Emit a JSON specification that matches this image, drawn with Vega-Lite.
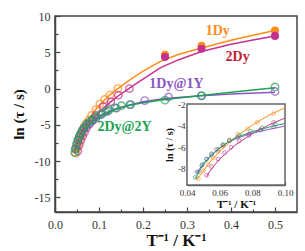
{
  "$schema": "https://vega.github.io/schema/vega-lite/v6.json",
  "width": 242,
  "height": 196,
  "autosize": {"type": "none"},
  "padding": {"left": 55, "top": 16, "right": 8, "bottom": 39},
  "background": "white",
  "config": {
    "view": {"stroke": "#444", "strokeWidth": 1.5},
    "font": "Liberation Serif",
    "axis": {"grid": false, "domainColor": "#444", "domainWidth": 1.5, "tickColor": "#444", "tickWidth": 1.2, "labelColor": "#333", "labelFont": "Liberation Serif", "titleFont": "Liberation Serif", "titleColor": "#111"}
  },
  "datasets": {
    "labels": [
      {"label": "1Dy", "x": 0.37, "y": 7.9},
      {"label": "2Dy", "x": 0.415, "y": 4.3},
      {"label": "1Dy@1Y", "x": 0.276, "y": 0.7},
      {"label": "2Dy@2Y", "x": 0.158, "y": -5.25}
    ],
    "frame": [{"x": 0.04, "x2": 0.1, "y": -9.5, "y2": -2}],
    "pts": [
      {"series": "1Dy", "kind": "open", "x": 0.047, "y": -8.9},
      {"series": "1Dy", "kind": "open", "x": 0.050, "y": -8.2},
      {"series": "1Dy", "kind": "open", "x": 0.053, "y": -7.6},
      {"series": "1Dy", "kind": "open", "x": 0.056, "y": -7.0},
      {"series": "1Dy", "kind": "open", "x": 0.059, "y": -6.4},
      {"series": "1Dy", "kind": "open", "x": 0.062, "y": -5.9},
      {"series": "1Dy", "kind": "open", "x": 0.066, "y": -5.3},
      {"series": "1Dy", "kind": "open", "x": 0.071, "y": -4.8},
      {"series": "1Dy", "kind": "open", "x": 0.077, "y": -4.3},
      {"series": "1Dy", "kind": "open", "x": 0.083, "y": -3.7},
      {"series": "1Dy", "kind": "open", "x": 0.093, "y": -2.9},
      {"series": "1Dy", "kind": "open", "x": 0.102, "y": -2.1},
      {"series": "1Dy", "kind": "open", "x": 0.113, "y": -1.5},
      {"series": "1Dy", "kind": "open", "x": 0.125, "y": -0.9},
      {"series": "1Dy", "kind": "open", "x": 0.143, "y": 0.0},
      {"series": "1Dy", "kind": "filled", "x": 0.25, "y": 4.66},
      {"series": "1Dy", "kind": "filled", "x": 0.333, "y": 5.89},
      {"series": "1Dy", "kind": "filled", "x": 0.5, "y": 7.99},
      {"series": "2Dy", "kind": "open", "x": 0.052, "y": -8.6},
      {"series": "2Dy", "kind": "open", "x": 0.055, "y": -7.8},
      {"series": "2Dy", "kind": "open", "x": 0.059, "y": -7.1},
      {"series": "2Dy", "kind": "open", "x": 0.063, "y": -6.5},
      {"series": "2Dy", "kind": "open", "x": 0.067, "y": -6.0},
      {"series": "2Dy", "kind": "open", "x": 0.072, "y": -5.4},
      {"series": "2Dy", "kind": "open", "x": 0.078, "y": -4.9},
      {"series": "2Dy", "kind": "open", "x": 0.085, "y": -4.4},
      {"series": "2Dy", "kind": "open", "x": 0.093, "y": -3.7},
      {"series": "2Dy", "kind": "open", "x": 0.110, "y": -2.5},
      {"series": "2Dy", "kind": "open", "x": 0.127, "y": -1.8},
      {"series": "2Dy", "kind": "open", "x": 0.144, "y": -0.9},
      {"series": "2Dy", "kind": "open", "x": 0.169, "y": 0.0},
      {"series": "2Dy", "kind": "filled", "x": 0.25, "y": 4.34},
      {"series": "2Dy", "kind": "filled", "x": 0.333, "y": 5.48},
      {"series": "2Dy", "kind": "filled", "x": 0.5, "y": 7.26},
      {"series": "1Dy@1Y", "kind": "open", "x": 0.046, "y": -8.3},
      {"series": "1Dy@1Y", "kind": "open", "x": 0.049, "y": -7.7},
      {"series": "1Dy@1Y", "kind": "open", "x": 0.052, "y": -7.1},
      {"series": "1Dy@1Y", "kind": "open", "x": 0.055, "y": -6.6},
      {"series": "1Dy@1Y", "kind": "open", "x": 0.058, "y": -6.2},
      {"series": "1Dy@1Y", "kind": "open", "x": 0.062, "y": -5.8},
      {"series": "1Dy@1Y", "kind": "open", "x": 0.066, "y": -5.4},
      {"series": "1Dy@1Y", "kind": "open", "x": 0.071, "y": -5.1},
      {"series": "1Dy@1Y", "kind": "open", "x": 0.078, "y": -4.8},
      {"series": "1Dy@1Y", "kind": "open", "x": 0.085, "y": -4.4},
      {"series": "1Dy@1Y", "kind": "open", "x": 0.093, "y": -4.1},
      {"series": "1Dy@1Y", "kind": "open", "x": 0.105, "y": -3.6},
      {"series": "1Dy@1Y", "kind": "open", "x": 0.120, "y": -3.1},
      {"series": "1Dy@1Y", "kind": "open", "x": 0.140, "y": -2.7},
      {"series": "1Dy@1Y", "kind": "open", "x": 0.172, "y": -2.2},
      {"series": "1Dy@1Y", "kind": "open", "x": 0.204, "y": -1.65},
      {"series": "1Dy@1Y", "kind": "open", "x": 0.258, "y": -1.15},
      {"series": "1Dy@1Y", "kind": "open", "x": 0.333, "y": -1.0},
      {"series": "1Dy@1Y", "kind": "open", "x": 0.5, "y": -0.4},
      {"series": "2Dy@2Y", "kind": "open", "x": 0.045, "y": -8.8},
      {"series": "2Dy@2Y", "kind": "open", "x": 0.047, "y": -8.3},
      {"series": "2Dy@2Y", "kind": "open", "x": 0.0495, "y": -7.6},
      {"series": "2Dy@2Y", "kind": "open", "x": 0.052, "y": -7.1},
      {"series": "2Dy@2Y", "kind": "open", "x": 0.055, "y": -6.7},
      {"series": "2Dy@2Y", "kind": "open", "x": 0.059, "y": -6.2},
      {"series": "2Dy@2Y", "kind": "open", "x": 0.062, "y": -5.75},
      {"series": "2Dy@2Y", "kind": "open", "x": 0.066, "y": -5.4},
      {"series": "2Dy@2Y", "kind": "open", "x": 0.072, "y": -4.9},
      {"series": "2Dy@2Y", "kind": "open", "x": 0.079, "y": -4.5},
      {"series": "2Dy@2Y", "kind": "open", "x": 0.086, "y": -4.2},
      {"series": "2Dy@2Y", "kind": "open", "x": 0.094, "y": -3.9},
      {"series": "2Dy@2Y", "kind": "open", "x": 0.105, "y": -3.5},
      {"series": "2Dy@2Y", "kind": "open", "x": 0.115, "y": -3.2},
      {"series": "2Dy@2Y", "kind": "open", "x": 0.123, "y": -2.95},
      {"series": "2Dy@2Y", "kind": "open", "x": 0.136, "y": -2.65},
      {"series": "2Dy@2Y", "kind": "open", "x": 0.151, "y": -2.35},
      {"series": "2Dy@2Y", "kind": "open", "x": 0.170, "y": -2.2},
      {"series": "2Dy@2Y", "kind": "open", "x": 0.25, "y": -1.6},
      {"series": "2Dy@2Y", "kind": "open", "x": 0.333, "y": -0.96},
      {"series": "2Dy@2Y", "kind": "open", "x": 0.5, "y": 0.23}
    ],
    "fit": [
      {"series": "1Dy", "x": 0.046, "y": -9.0},
      {"series": "1Dy", "x": 0.05, "y": -8.2},
      {"series": "1Dy", "x": 0.055, "y": -7.2},
      {"series": "1Dy", "x": 0.06, "y": -6.4},
      {"series": "1Dy", "x": 0.065, "y": -5.7},
      {"series": "1Dy", "x": 0.07, "y": -5.05},
      {"series": "1Dy", "x": 0.08, "y": -3.95},
      {"series": "1Dy", "x": 0.09, "y": -3.05},
      {"series": "1Dy", "x": 0.10, "y": -2.35},
      {"series": "1Dy", "x": 0.11, "y": -1.7},
      {"series": "1Dy", "x": 0.12, "y": -1.1},
      {"series": "1Dy", "x": 0.135, "y": -0.35},
      {"series": "1Dy", "x": 0.15, "y": 0.3},
      {"series": "1Dy", "x": 0.17, "y": 1.2},
      {"series": "1Dy", "x": 0.2, "y": 2.4},
      {"series": "1Dy", "x": 0.24, "y": 3.75},
      {"series": "1Dy", "x": 0.28, "y": 4.7},
      {"series": "1Dy", "x": 0.333, "y": 5.6},
      {"series": "1Dy", "x": 0.4, "y": 6.65},
      {"series": "1Dy", "x": 0.45, "y": 7.35},
      {"series": "1Dy", "x": 0.5, "y": 8.0},
      {"series": "2Dy", "x": 0.052, "y": -8.7},
      {"series": "2Dy", "x": 0.055, "y": -8.0},
      {"series": "2Dy", "x": 0.06, "y": -7.1},
      {"series": "2Dy", "x": 0.065, "y": -6.4},
      {"series": "2Dy", "x": 0.07, "y": -5.75},
      {"series": "2Dy", "x": 0.08, "y": -4.75},
      {"series": "2Dy", "x": 0.09, "y": -3.95},
      {"series": "2Dy", "x": 0.10, "y": -3.3},
      {"series": "2Dy", "x": 0.11, "y": -2.7},
      {"series": "2Dy", "x": 0.125, "y": -1.9},
      {"series": "2Dy", "x": 0.145, "y": -0.95},
      {"series": "2Dy", "x": 0.17, "y": 0.1},
      {"series": "2Dy", "x": 0.2, "y": 1.3},
      {"series": "2Dy", "x": 0.24, "y": 2.9},
      {"series": "2Dy", "x": 0.28, "y": 3.95},
      {"series": "2Dy", "x": 0.333, "y": 5.1},
      {"series": "2Dy", "x": 0.4, "y": 6.1},
      {"series": "2Dy", "x": 0.45, "y": 6.7},
      {"series": "2Dy", "x": 0.5, "y": 7.26},
      {"series": "1Dy@1Y", "x": 0.046, "y": -8.4},
      {"series": "1Dy@1Y", "x": 0.05, "y": -7.5},
      {"series": "1Dy@1Y", "x": 0.055, "y": -6.7},
      {"series": "1Dy@1Y", "x": 0.06, "y": -6.05},
      {"series": "1Dy@1Y", "x": 0.065, "y": -5.55},
      {"series": "1Dy@1Y", "x": 0.07, "y": -5.2},
      {"series": "1Dy@1Y", "x": 0.08, "y": -4.7},
      {"series": "1Dy@1Y", "x": 0.09, "y": -4.35},
      {"series": "1Dy@1Y", "x": 0.1, "y": -4.05},
      {"series": "1Dy@1Y", "x": 0.12, "y": -3.35},
      {"series": "1Dy@1Y", "x": 0.14, "y": -2.8},
      {"series": "1Dy@1Y", "x": 0.17, "y": -2.25},
      {"series": "1Dy@1Y", "x": 0.2, "y": -1.8},
      {"series": "1Dy@1Y", "x": 0.25, "y": -1.35},
      {"series": "1Dy@1Y", "x": 0.333, "y": -1.0},
      {"series": "1Dy@1Y", "x": 0.4, "y": -0.75},
      {"series": "1Dy@1Y", "x": 0.5, "y": -0.5},
      {"series": "2Dy@2Y", "x": 0.045, "y": -8.9},
      {"series": "2Dy@2Y", "x": 0.05, "y": -7.6},
      {"series": "2Dy@2Y", "x": 0.055, "y": -6.75},
      {"series": "2Dy@2Y", "x": 0.06, "y": -6.1},
      {"series": "2Dy@2Y", "x": 0.065, "y": -5.55},
      {"series": "2Dy@2Y", "x": 0.07, "y": -5.1},
      {"series": "2Dy@2Y", "x": 0.08, "y": -4.55},
      {"series": "2Dy@2Y", "x": 0.09, "y": -4.15},
      {"series": "2Dy@2Y", "x": 0.1, "y": -3.8},
      {"series": "2Dy@2Y", "x": 0.12, "y": -3.2},
      {"series": "2Dy@2Y", "x": 0.14, "y": -2.75},
      {"series": "2Dy@2Y", "x": 0.17, "y": -2.3},
      {"series": "2Dy@2Y", "x": 0.2, "y": -1.95},
      {"series": "2Dy@2Y", "x": 0.25, "y": -1.5},
      {"series": "2Dy@2Y", "x": 0.333, "y": -0.95},
      {"series": "2Dy@2Y", "x": 0.4, "y": -0.5},
      {"series": "2Dy@2Y", "x": 0.5, "y": 0.1}
    ]
  },
  "layer": [
    {
      "encoding": {
        "x": {"field": "x", "type": "quantitative", "scale": {"domain": [0, 0.55], "nice": false},
          "axis": {"values": [0, 0.05, 0.1, 0.15, 0.2, 0.25, 0.3, 0.35, 0.4, 0.45, 0.5],
            "labelExpr": "abs(datum.value*10-round(datum.value*10))<0.001 ? format(datum.value,'.1f') : ''",
            "tickSize": {"condition": {"test": "abs(datum.value*10-round(datum.value*10))<0.001", "value": -5}, "value": -3},
            "labelPadding": 12, "labelFontSize": 12, "labelFlush": false, "labelFont": "Liberation Serif",
            "title": "T⁻¹ / K⁻¹", "titleFont": "Liberation Serif", "titleFontSize": 17, "titleFontWeight": "bold", "titlePadding": 2}},
        "y": {"field": "y", "type": "quantitative", "scale": {"domain": [-17, 10], "nice": false, "zero": false},
          "axis": {"values": [-15, -12.5, -10, -7.5, -5, -2.5, 0, 2.5, 5, 7.5, 10],
            "labelExpr": "datum.value % 5 == 0 ? toString(datum.value) : ''",
            "tickSize": {"condition": {"test": "datum.value % 5 == 0", "value": -5}, "value": -3},
            "labelPadding": 10, "labelFontSize": 12, "labelFont": "Liberation Serif",
            "title": "ln (τ / s)", "titleFont": "Liberation Serif", "titleFontSize": 15, "titleFontWeight": "bold", "titlePadding": 8}}
      },
      "layer": [
        {"data": {"name": "fit"}, "mark": {"type": "line", "strokeWidth": 1.5},
         "encoding": {"color": {"field": "series", "type": "nominal", "legend": null,
           "scale": {"domain": ["1Dy", "2Dy", "1Dy@1Y", "2Dy@2Y"], "range": ["#FF8C1A", "#C4318F", "#8A55C4", "#20A255"]}},
           "detail": {"field": "series"}}},
        {"data": {"name": "pts"}, "transform": [{"filter": "datum.kind == 'open'"}],
         "mark": {"type": "point", "filled": false, "size": 55, "strokeWidth": 1.4},
         "encoding": {"color": {"field": "series", "type": "nominal", "legend": null}}},
        {"data": {"name": "pts"}, "transform": [{"filter": "datum.kind == 'filled'"}],
         "mark": {"type": "circle", "size": 65, "opacity": 1},
         "encoding": {"color": {"field": "series", "type": "nominal", "legend": null}}},
        {"data": {"name": "labels"}, "transform": [{"filter": "datum.label == '1Dy'"}],
         "mark": {"type": "text", "font": "Liberation Serif", "fontSize": 14, "fontWeight": "bold", "color": "#FF8C1A"},
         "encoding": {"text": {"field": "label"}}},
        {"data": {"name": "labels"}, "transform": [{"filter": "datum.label == '2Dy'"}],
         "mark": {"type": "text", "font": "Liberation Serif", "fontSize": 14, "fontWeight": "bold", "color": "#C41E3A"},
         "encoding": {"text": {"field": "label"}}},
        {"data": {"name": "labels"}, "transform": [{"filter": "datum.label == '1Dy@1Y'"}],
         "mark": {"type": "text", "font": "Liberation Serif", "fontSize": 14, "fontWeight": "bold", "color": "#8A55C4"},
         "encoding": {"text": {"field": "label"}}},
        {"data": {"name": "labels"}, "transform": [{"filter": "datum.label == '2Dy@2Y'"}],
         "mark": {"type": "text", "font": "Liberation Serif", "fontSize": 14, "fontWeight": "bold", "color": "#20A255"},
         "encoding": {"text": {"field": "label"}}}
      ]
    },
    {
      "encoding": {
        "x": {"field": "x", "type": "quantitative", "scale": {"domain": [0.04, 0.1], "nice": false, "zero": false, "range": [132, 230]},
          "axis": {"orient": "bottom", "offset": -27, "values": [0.04, 0.05, 0.06, 0.07, 0.08, 0.09, 0.1],
            "labelExpr": "abs(datum.value*50-round(datum.value*50))<0.001 ? format(datum.value,'.2f') : ''",
            "tickSize": {"condition": {"test": "abs(datum.value*50-round(datum.value*50))<0.001", "value": -3}, "value": -2},
            "labelPadding": 6, "labelFontSize": 9, "labelFlush": false, "domainColor": "#666", "labelFont": "Liberation Serif",
            "title": "T⁻¹ / K⁻¹", "titleFont": "Liberation Serif", "titleFontSize": 11, "titleFontWeight": "bold", "titlePadding": 1}},
        "y": {"field": "y", "type": "quantitative", "scale": {"domain": [-9.5, -2], "nice": false, "zero": false, "range": [169, 88]},
          "axis": {"orient": "left", "offset": -132, "values": [-9, -8, -7, -6, -5, -4, -3, -2],
            "labelExpr": "datum.value % 2 == 0 ? toString(datum.value) : ''",
            "tickSize": {"condition": {"test": "datum.value % 2 == 0", "value": -3}, "value": -2},
            "labelPadding": 5, "labelFontSize": 9, "domainColor": "#666", "labelFont": "Liberation Serif",
            "title": "ln (τ / s)", "titleFont": "Liberation Serif", "titleFontSize": 10, "titleFontWeight": "bold", "titlePadding": 3}}
      },
      "layer": [
        {"data": {"name": "frame"}, "mark": {"type": "rect", "fill": "white", "stroke": "#666", "strokeWidth": 1.5},
         "encoding": {"x2": {"field": "x2"}, "y2": {"field": "y2"}}},
        {"data": {"name": "fit"}, "transform": [{"filter": "datum.x <= 0.1001"}],
         "mark": {"type": "line", "strokeWidth": 1},
         "encoding": {"color": {"field": "series", "type": "nominal", "legend": null}, "detail": {"field": "series"}}},
        {"data": {"name": "pts"}, "transform": [{"filter": "datum.x <= 0.1001"}],
         "mark": {"type": "point", "filled": false, "size": 14, "strokeWidth": 0.9},
         "encoding": {"color": {"field": "series", "type": "nominal", "legend": null}}}
      ]
    }
  ],
  "resolve": {"scale": {"x": "independent", "y": "independent"}}
}
